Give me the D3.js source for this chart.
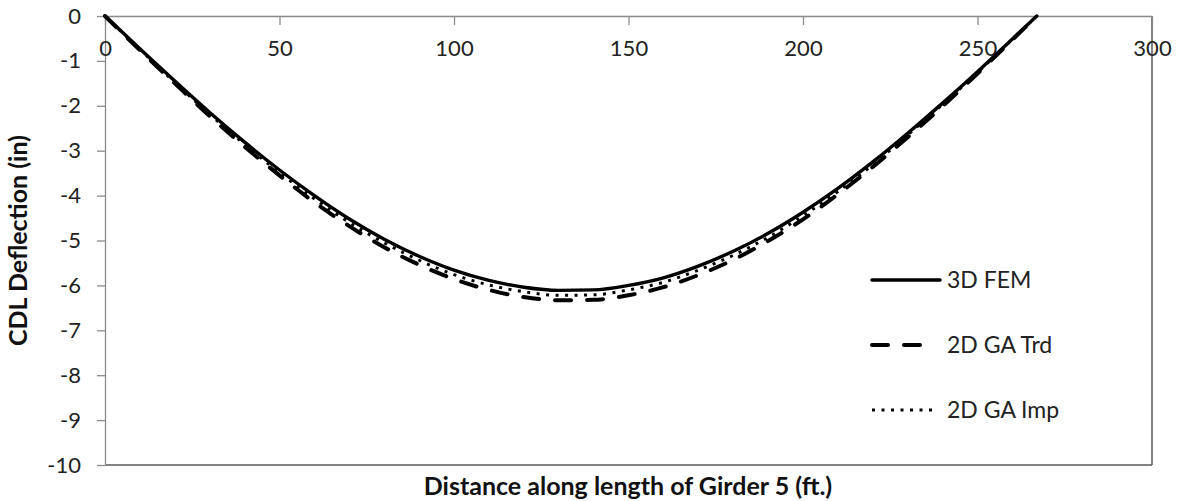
<!DOCTYPE html>
<html>
<head>
<meta charset="utf-8">
<script src="https://cdn.jsdelivr.net/npm/d3@7"></script>
<style>
  body { margin: 0; background: #fff; }
  svg { display: block; font-family: Lato, "Open Sans", sans-serif; }
</style>
</head>
<body>
<div id="chart"></div>
<script>
// --- data ---
const distance = [0, 10, 20, 30, 40, 50, 60, 70, 80, 90, 100, 110, 120, 130,
  140, 150, 160, 170, 180, 190, 200, 210, 220, 230, 240, 250, 260, 267];
const fem3d = [0, -0.73, -1.45, -2.15, -2.81, -3.43, -4.00, -4.52, -4.97, -5.35, -5.66, -5.89, -6.04, -6.11,
  -6.10, -6.00, -5.83, -5.57, -5.24, -4.84, -4.37, -3.84, -3.25, -2.61, -1.94, -1.24, -0.51, 0];
const gaTrd = [0, -0.76, -1.50, -2.23, -2.91, -3.55, -4.15, -4.68, -5.15, -5.54, -5.86, -6.10, -6.26, -6.33,
  -6.32, -6.22, -6.04, -5.77, -5.43, -5.01, -4.53, -3.97, -3.36, -2.70, -2.01, -1.28, -0.53, 0];
const gaImp = [0, -0.74, -1.48, -2.19, -2.86, -3.49, -4.07, -4.60, -5.05, -5.44, -5.76, -5.99, -6.14, -6.22,
  -6.21, -6.10, -5.93, -5.66, -5.33, -4.93, -4.45, -3.91, -3.31, -2.65, -1.97, -1.26, -0.52, 0];
const xTicks = [0, 50, 100, 150, 200, 250, 300];
const yTicks = [0, -1, -2, -3, -4, -5, -6, -7, -8, -9, -10];
const seriesNames = ["3D FEM", "2D GA Trd", "2D GA Imp"];

const width = 1178, height = 501;
const plotL = 105, plotR = 1152, plotT = 16, plotB = 465;

const svg = d3.select("#chart").append("svg")
  .attr("width", width).attr("height", height);

const x = d3.scaleLinear().domain([0, 300]).range([plotL, plotR]);
const y = d3.scaleLinear().domain([-10, 0]).range([plotB, plotT]);

// plot area border (bottom + right are darker)
svg.append("line").attr("x1", plotL).attr("x2", plotR).attr("y1", plotB).attr("y2", plotB)
  .attr("stroke", "#595959").attr("stroke-width", 1.5);
svg.append("line").attr("x1", plotR).attr("x2", plotR).attr("y1", plotT).attr("y2", plotB)
  .attr("stroke", "#595959").attr("stroke-width", 1.5);

// y axis
const yAxis = svg.append("g")
  .attr("transform", `translate(${plotL},0)`)
  .call(d3.axisLeft(y).tickValues(yTicks).tickSize(8).tickSizeOuter(0).tickPadding(16));
yAxis.select(".domain").attr("stroke", "#8c8c8c").attr("stroke-width", 1.3);
yAxis.selectAll(".tick line").attr("stroke", "#8c8c8c").attr("stroke-width", 1.3);
yAxis.selectAll(".tick text").attr("font-size", 22).attr("fill", "#222")
  .attr("font-family", "Lato, sans-serif").text(d => d === 0 ? "0" : "-" + Math.abs(d));

// x axis sits at y = 0 (top), ticks pointing down
const xAxis = svg.append("g")
  .attr("transform", `translate(0,${plotT})`)
  .call(d3.axisBottom(x).tickValues(xTicks).tickSize(9).tickSizeOuter(0).tickPadding(15));
xAxis.select(".domain").attr("stroke", "#8c8c8c").attr("stroke-width", 1.3);
xAxis.selectAll(".tick line").attr("stroke", "#8c8c8c").attr("stroke-width", 1.3);
xAxis.selectAll(".tick text").attr("font-size", 22).attr("fill", "#222")
  .attr("font-family", "Lato, sans-serif");

// axis titles
svg.append("text")
  .attr("x", 628).attr("y", 495)
  .attr("text-anchor", "middle")
  .attr("font-size", 25).attr("font-weight", "bold").attr("fill", "#111")
  .text("Distance along length of Girder 5 (ft.)");

svg.append("text")
  .attr("transform", `translate(27,${(plotT + plotB) / 2}) rotate(-90)`)
  .attr("text-anchor", "middle")
  .attr("font-size", 25).attr("font-weight", "bold").attr("fill", "#111")
  .text("CDL Deflection (in)");

// lines
const styles = [
  { values: fem3d, width: 3.4, dash: null, cap: "round" },
  { values: gaTrd, width: 4, dash: "16,16", cap: "round" },
  { values: gaImp, width: 3, dash: "3,6.5", cap: "butt" }
];

const line = d3.line()
  .x(d => x(d[0]))
  .y(d => y(d[1]))
  .curve(d3.curveMonotoneX);

// draw dashed and dotted first, solid on top
[1, 2, 0].forEach(i => {
  const s = styles[i];
  svg.append("path")
    .datum(distance.map((d, j) => [d, s.values[j]]))
    .attr("d", line)
    .attr("fill", "none")
    .attr("stroke", "#000")
    .attr("stroke-width", s.width)
    .attr("stroke-dasharray", s.dash)
    .attr("stroke-linecap", s.cap)
    .attr("stroke-linejoin", "round");
});

// legend
const legendY = [280, 345, 410];
seriesNames.forEach((name, i) => {
  const s = styles[i];
  const g = svg.append("g").attr("transform", `translate(870,${legendY[i]})`);
  g.append("line")
    .attr("x1", 2).attr("x2", i === 1 ? 55 : (i === 2 ? 66 : 70))
    .attr("stroke", "#000")
    .attr("stroke-width", s.width)
    .attr("stroke-dasharray", s.dash)
    .attr("stroke-linecap", s.cap);
  g.append("text")
    .attr("x", 77).attr("y", 0).attr("dy", "0.35em")
    .attr("font-size", 23).attr("fill", "#222")
    .text(name);
});
</script>
</body>
</html>
